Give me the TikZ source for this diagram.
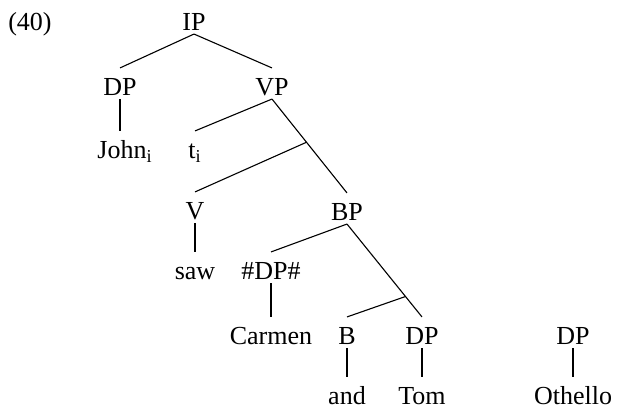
\documentclass[tikz,border=0pt]{standalone}
\usepackage{fontspec}
\setmainfont{Liberation Serif}
\usetikzlibrary{calc}
\begin{document}
\begin{tikzpicture}[x=0.5pt,y=-0.5pt,line join=bevel,
  cat/.style={anchor=base,inner sep=1.25pt,text height=12.5pt,text depth=0pt,
    font=\fontsize{13}{15}\selectfont}]
  \pgfsetlinewidth{0.55bp}
  \useasboundingbox (0,0) rectangle (617,410);
%%
  % Node: example number
  \node[cat] (Ex) at (30,31) {(40)};
  % Node: IP
  \node[cat] (IP) at (194,31) {IP};
  % Node: DP, VP
  \node[cat] (DPa) at (120,96) {DP};
  \node[cat] (VP) at (272,96) {VP};
  % Node: John, t
  \node[cat] (John) at (125,159) {John\textsubscript{i}};
  \node[cat] (t) at (195,159) {t\textsubscript{i}};
  % Node: V, BP
  \node[cat] (V) at (195,220) {V};
  \node[cat] (BP) at (347,221) {BP};
  % Node: saw, #DP#
  \node[cat] (saw) at (195,280) {saw};
  \node[cat] (DPh) at (271,280) {\#DP\#};
  % Node: Carmen, B, DP, DP
  \node[cat] (Carmen) at (271,345) {Carmen};
  \node[cat] (B) at (347,345) {B};
  \node[cat] (DPb) at (422,345) {DP};
  \node[cat] (DPc) at (573,345) {DP};
  % Node: and, Tom, Othello
  \node[cat] (and) at (347,405) {and};
  \node[cat] (Tom) at (422,405) {Tom};
  \node[cat] (Othello) at (573,405) {Othello};
  % bar levels
  \coordinate (Vbar) at ($(VP.south)!0.46!(BP.north)$);
  \coordinate (Bbar) at ($(BP.south)!0.78!(DPb.north)$);
%%
  % Edge: IP -> DP, VP
  \draw (IP.south) -- (DPa.north);
  \draw (IP.south) -- (VP.north);
  % Edge: DP -> John
  \draw (DPa.south) -- (DPa.south |- John.north);
  % Edge: VP -> t, V', BP
  \draw (VP.south) -- (t.north);
  \draw (VP.south) -- (Vbar) -- (BP.north);
  \draw (Vbar) -- (V.north);
  % Edge: V -> saw
  \draw (V.south) -- (saw.north);
  % Edge: BP -> #DP#, B', DP
  \draw (BP.south) -- (DPh.north);
  \draw (BP.south) -- (Bbar) -- (DPb.north);
  \draw (Bbar) -- (B.north);
  % Edge: #DP# -> Carmen
  \draw (DPh.south) -- (Carmen.north);
  % Edge: B -> and, DP -> Tom, DP -> Othello
  \draw (B.south) -- (and.north);
  \draw (DPb.south) -- (Tom.north);
  \draw (DPc.south) -- (Othello.north);
%
\end{tikzpicture}
\end{document}
